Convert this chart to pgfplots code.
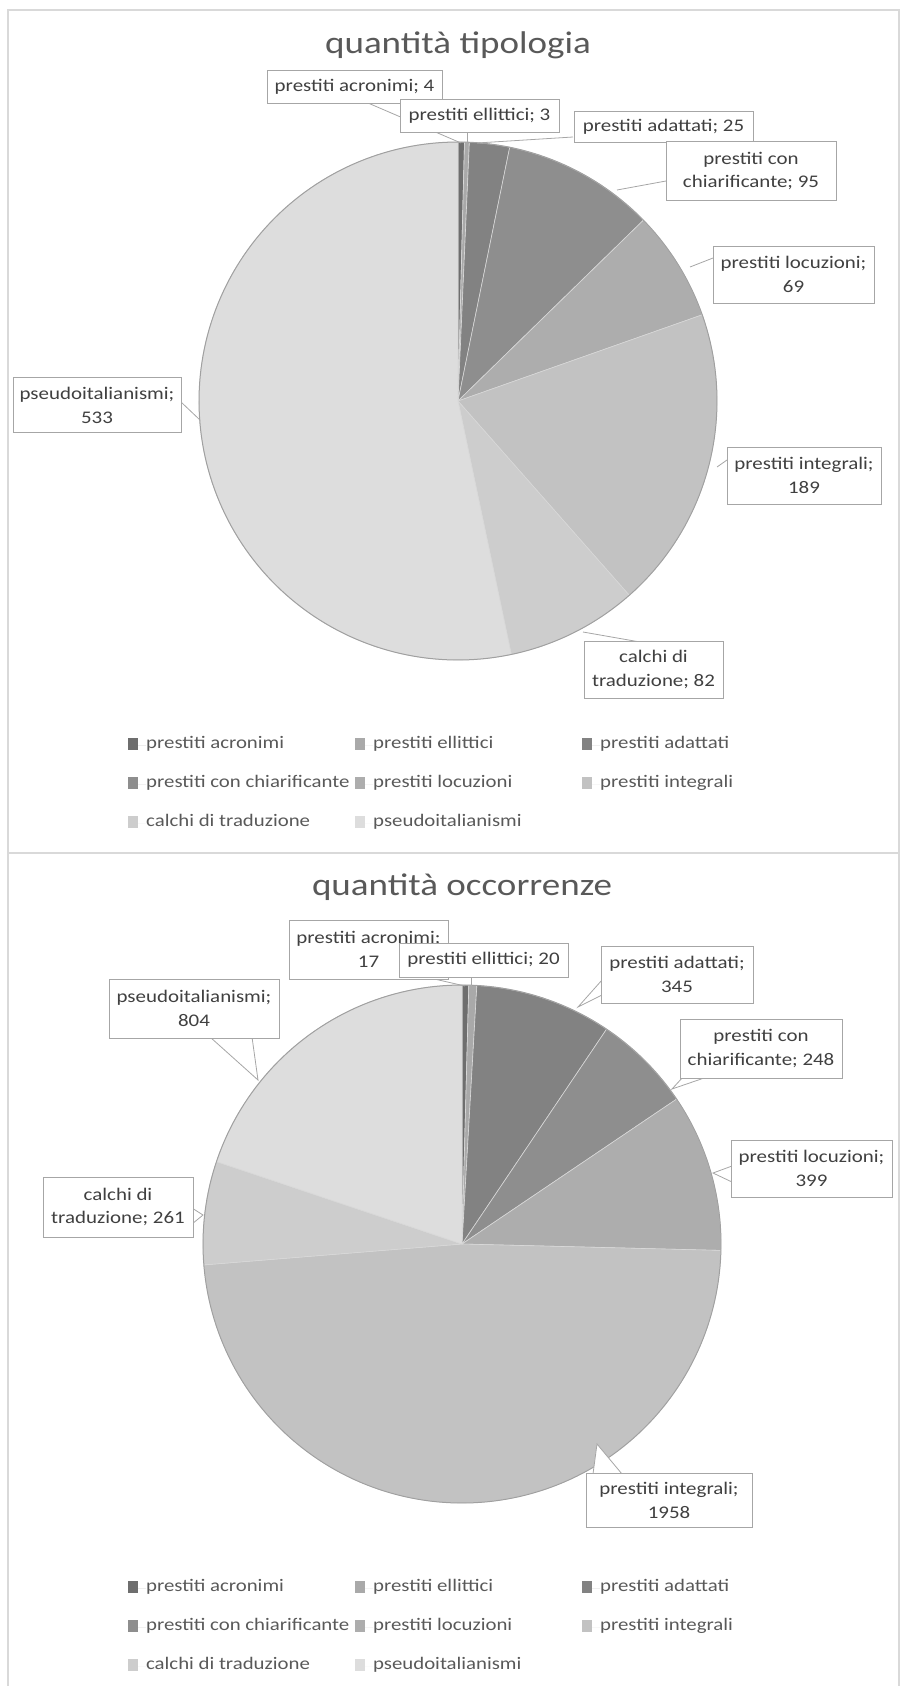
\documentclass[border=0pt]{standalone}
\usepackage{pgfplots}
\pgfplotsset{compat=1.18}
\usepackage{fontspec}
\setmainfont[FakeStretch=1.18]{Carlito}

\definecolor{cA1}{HTML}{6E6E6E}
\definecolor{cA2}{HTML}{A9A9A9}
\definecolor{cA3}{HTML}{828282}
\definecolor{cA4}{HTML}{8E8E8E}
\definecolor{cA5}{HTML}{ADADAD}
\definecolor{cA6}{HTML}{C2C2C2}
\definecolor{cA7}{HTML}{CDCDCD}
\definecolor{cA8}{HTML}{DDDDDD}
\definecolor{ring}{HTML}{A0A0A0}
\definecolor{sliceedge}{HTML}{D8D8D8}
\definecolor{framegray}{HTML}{D9D9D9}
\definecolor{boxgray}{HTML}{A6A6A6}
\definecolor{leadgray}{HTML}{A6A6A6}
\definecolor{labtext}{HTML}{404040}
\definecolor{titletext}{HTML}{595959}
\definecolor{legtext}{HTML}{595959}

% pie from a list of values (drawn clockwise from 12 o'clock)
\newcommand\drawpie[2]{%
  \def\pCum{0}\def\pIdx{0}%
  \pgfplotsforeachungrouped \v in {#1}{%
    \pgfmathsetmacro\pA{\pCum/#2*360}%
    \pgfmathsetmacro\pCum{\pCum+\v}%
    \pgfmathsetmacro\pB{\pCum/#2*360}%
    \pgfmathtruncatemacro\pIdx{\pIdx+1}%
    \edef\pTmp{\noexpand\addplot[forget plot, fill=cA\pIdx, draw=sliceedge, line width=0.6bp,
      domain=\pA:\pB, samples=90, variable=\noexpand\t]
      ({sin(\noexpand\t)},{cos(\noexpand\t)}) -- (axis cs:0,0) -- cycle;}%
    \pTmp
  }%
  \addplot[forget plot, draw=ring, line width=1bp, domain=0:360, samples=240] ({sin(x)},{cos(x)});
}

\pgfplotsset{
  pieaxis/.style={
    scale only axis, width=518bp, height=518bp,
    xmin=-1, xmax=1, ymin=-1, ymax=1,
    hide axis, clip=false, anchor=origin,
    legend columns=3, legend cell align=left,
    legend image code/.code={\fill[##1] (0bp,-5bp) rectangle (10bp,7bp); \path (0bp,0bp) -- (18bp,0bp);},
    legend style={draw=none, fill=none, inner sep=0pt, column sep=0pt, row sep=19bp,
      anchor=north west, font=\fontsize{17.7}{20}\selectfont, text=legtext,
      nodes={inner sep=0pt, text height=13bp, text depth=7bp}},
  }
}

\newcommand\legendall{%
  \addlegendimage{fill=cA1, draw=none}\addlegendentry{\makebox[209bp][l]{prestiti acronimi}}
  \addlegendimage{fill=cA2, draw=none}\addlegendentry{\makebox[209bp][l]{prestiti ellittici}}
  \addlegendimage{fill=cA3, draw=none}\addlegendentry{\makebox[209bp][l]{prestiti adattati}}
  \addlegendimage{fill=cA4, draw=none}\addlegendentry{\makebox[209bp][l]{prestiti con chiarificante}}
  \addlegendimage{fill=cA5, draw=none}\addlegendentry{\makebox[209bp][l]{prestiti locuzioni}}
  \addlegendimage{fill=cA6, draw=none}\addlegendentry{\makebox[209bp][l]{prestiti integrali}}
  \addlegendimage{fill=cA7, draw=none}\addlegendentry{\makebox[209bp][l]{calchi di traduzione}}
  \addlegendimage{fill=cA8, draw=none}\addlegendentry{\makebox[209bp][l]{pseudoitalianismi}}
}

\newcommand\lab[5]{\node[draw=boxgray, line width=0.8bp, fill=white, inner sep=0pt,
  minimum width=#3bp, minimum height=#4bp, align=center,
  font=\fontsize{17.8}{24}\selectfont, text=labtext] at (#1bp,-#2bp) {#5};}
\newcommand\lead[4]{\draw[leadgray, line width=0.8bp] (#1bp,-#2bp) -- (#3bp,-#4bp);}
\newcommand\callout[6]{\filldraw[fill=white, draw=leadgray, line width=0.8bp]
  (#1bp,-#2bp) -- (#5bp,-#6bp) -- (#3bp,-#4bp);}

\begin{document}
\begin{tikzpicture}
\path[use as bounding box] (0,0) rectangle (903bp,-1686bp);
\draw[framegray, line width=1.2bp] (8bp,-1686bp) -- (8bp,-10bp) -- (899bp,-10bp) -- (899bp,-1686bp);
\draw[framegray, line width=1.6bp] (8bp,-853bp) -- (899bp,-853bp);

% ---------- chart 1 ----------
\begin{axis}[pieaxis, at={(458bp,-401bp)},
  legend style={at={(-0.137,-0.145)}}]
  \drawpie{4,3,25,95,69,189,82,533}{1000}
  \legendall
\end{axis}
\node[font=\fontsize{31.5}{36}\selectfont, text=titletext] at (458bp,-45bp) {quantità tipologia};

\lead{368}{103}{461}{143}
\lead{467}{132}{467}{143}
\lead{573}{137}{477}{143}
\lead{666}{181}{617}{190}
\lead{713}{258}{690}{267}
\lead{727}{460}{717}{467}
\lead{640}{642}{583}{632}
\lead{181}{402}{200}{420}

\lab{354.5}{86.5}{175}{33}{prestiti acronimi; 4}
\lab{479.5}{115.5}{159}{33}{prestiti ellittici; 3}
\lab{663.5}{127}{179}{31}{prestiti adattati; 25}
\lab{751}{171}{170}{59}{prestiti con\\chiarificante; 95}
\lab{793.5}{274.5}{161}{57}{prestiti locuzioni;\\69}
\lab{804}{475.5}{154}{57}{prestiti integrali;\\189}
\lab{653.5}{669.5}{139}{57}{calchi di\\traduzione; 82}
\lab{97}{405}{168}{55}{pseudoitalianismi;\\533}

% ---------- chart 2 ----------
\begin{axis}[pieaxis, at={(462bp,-1244bp)},
  legend style={at={(-0.145,-0.145)}}]
  \drawpie{17,20,345,248,399,1958,261,804}{4052}
  \legendall
\end{axis}
\node[font=\fontsize{31.5}{36}\selectfont, text=titletext] at (462bp,-887bp) {quantità occorrenze};

\lead{430}{978}{465}{986}
\lead{471}{977}{471}{985}
\callout{210}{1037}{252}{1037}{258}{1080}
\callout{602}{980}{602}{995}{578}{1007}
\callout{683}{1077}{707}{1077}{672}{1089}
\callout{732}{1166}{732}{1182}{713}{1173}
\callout{192}{1208}{192}{1224}{203}{1215}
\callout{593}{1474}{622}{1474}{597}{1444}

\lab{368.5}{949.5}{159}{59}{prestiti acronimi;\\17}
\lab{483.5}{960}{169}{34}{prestiti ellittici; 20}
\lab{194}{1008.5}{170}{59}{pseudoitalianismi;\\804}
\lab{677}{974.5}{152}{57}{prestiti adattati;\\345}
\lab{761}{1048.5}{162}{59}{prestiti con\\chiarificante; 248}
\lab{811.5}{1168.5}{161}{57}{prestiti locuzioni;\\399}
\lab{118}{1207}{150}{60}{calchi di\\traduzione; 261}
\lab{669}{1500}{166}{54}{prestiti integrali;\\1958}
\end{tikzpicture}
\end{document}
